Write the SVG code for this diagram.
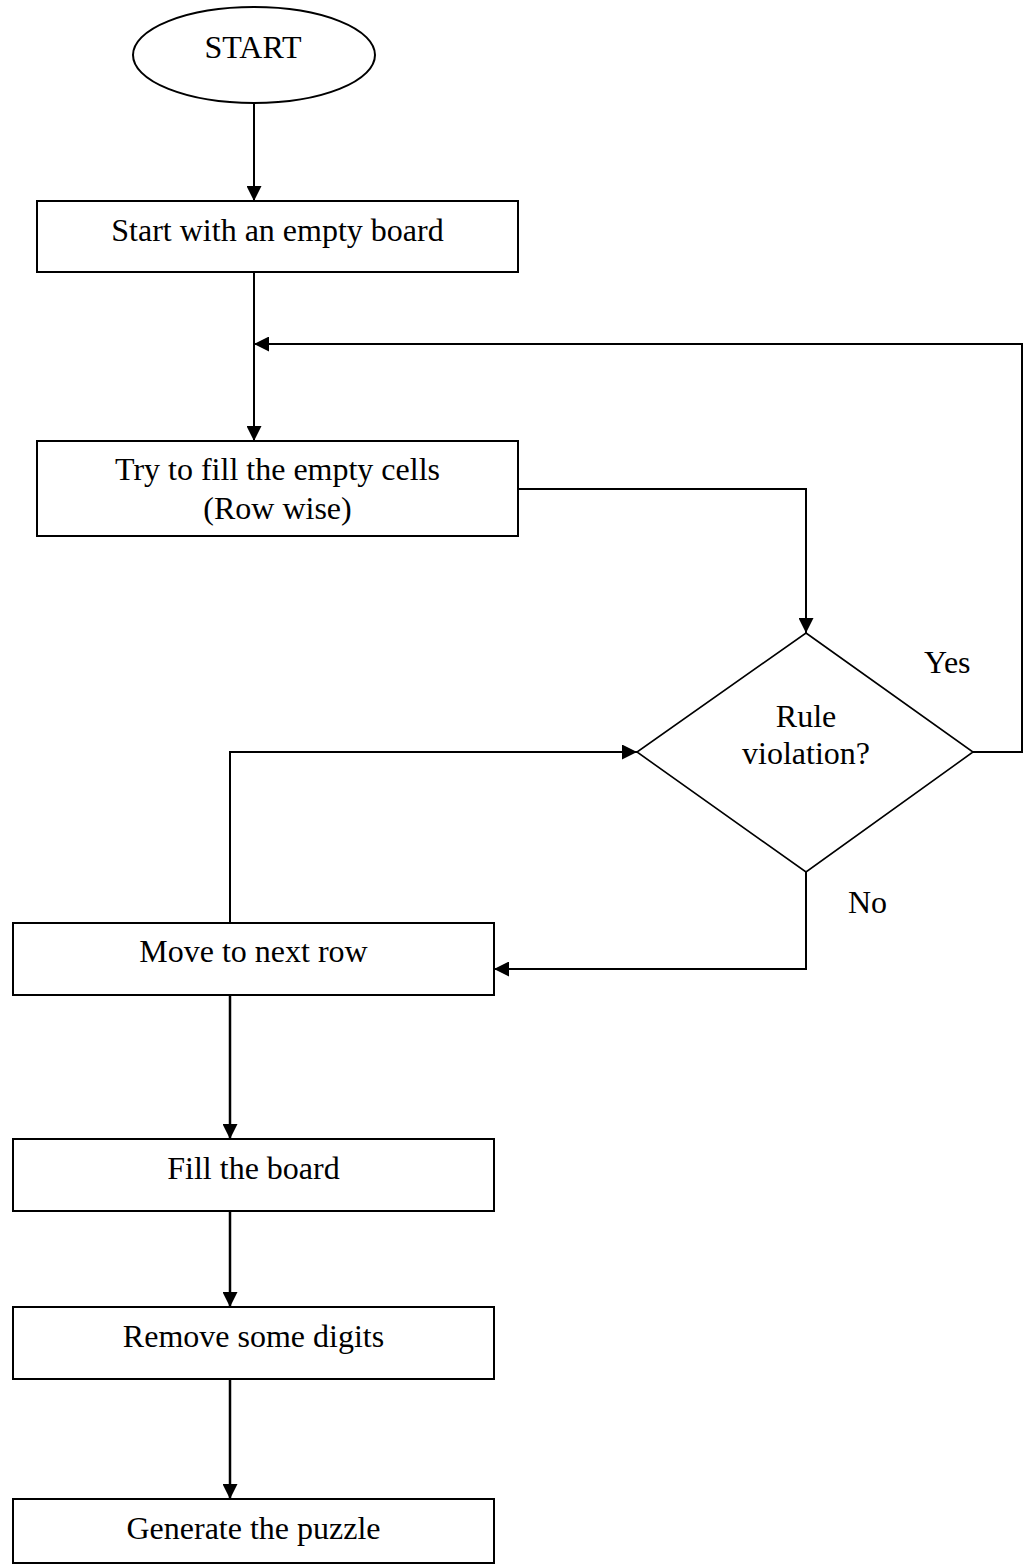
<svg xmlns="http://www.w3.org/2000/svg" width="1026" height="1566" viewBox="0 0 1026 1566">
<style>
.shape{fill:#fff;stroke:#000;stroke-width:2}
.dia{fill:#fff;stroke:#000;stroke-width:1.6}
.conn{fill:none;stroke:#000;stroke-width:2}
.thick{stroke-width:2.5}
text{font-family:"Liberation Serif","Times New Roman",serif;font-size:32px;fill:#000}
.c{text-anchor:middle}
</style>
<defs>
<marker id="arr" markerUnits="userSpaceOnUse" markerWidth="15" markerHeight="15" refX="15" refY="7.5" orient="auto">
<path d="M0,0 L15,7.5 L0,15 z" fill="#000"/>
</marker>
</defs>
<rect width="1026" height="1566" fill="#fff"/>
<g id="connectors">
<line class="conn" x1="254" y1="103" x2="254" y2="201" marker-end="url(#arr)"/>
<line class="conn" x1="254" y1="272" x2="254" y2="441" marker-end="url(#arr)"/>
<polyline class="conn" points="518,489 806,489 806,633" marker-end="url(#arr)"/>
<polyline class="conn" points="973,752 1022,752 1022,344 254,344" marker-end="url(#arr)"/>
<polyline class="conn" points="806,872 806,969 494,969" marker-end="url(#arr)"/>
<polyline class="conn" points="230,923 230,752 637,752" marker-end="url(#arr)"/>
<line class="conn thick" x1="230" y1="995" x2="230" y2="1139" marker-end="url(#arr)"/>
<line class="conn thick" x1="230" y1="1211" x2="230" y2="1307" marker-end="url(#arr)"/>
<line class="conn thick" x1="230" y1="1379" x2="230" y2="1499" marker-end="url(#arr)"/>
<text x="924" y="673">Yes</text>
<text x="848" y="913">No</text>
</g>
<g id="start">
<ellipse class="shape" cx="254" cy="55" rx="121" ry="48"/>
<text class="c" x="253" y="58">START</text>
</g>
<g id="empty-board">
<rect class="shape" x="37" y="201" width="481" height="71"/>
<text class="c" x="277.5" y="241">Start with an empty board</text>
</g>
<g id="try-fill">
<rect class="shape" x="37" y="441" width="481" height="95"/>
<text class="c" x="277.5" y="480">Try to fill the empty cells</text>
<text class="c" x="277.5" y="519">(Row wise)</text>
</g>
<g id="rule-violation">
<polygon class="dia" points="806,633 973,752 806,872 637,752"/>
<text class="c" x="806" y="727">Rule</text>
<text class="c" x="806" y="764">violation?</text>
</g>
<g id="next-row">
<rect class="shape" x="13" y="923" width="481" height="72"/>
<text class="c" x="253.5" y="962">Move to next row</text>
</g>
<g id="fill-board">
<rect class="shape" x="13" y="1139" width="481" height="72"/>
<text class="c" x="253.5" y="1179">Fill the board</text>
</g>
<g id="remove-digits">
<rect class="shape" x="13" y="1307" width="481" height="72"/>
<text class="c" x="253.5" y="1347">Remove some digits</text>
</g>
<g id="generate">
<rect class="shape" x="13" y="1499" width="481" height="64"/>
<text class="c" x="253.5" y="1539">Generate the puzzle</text>
</g>
</svg>
